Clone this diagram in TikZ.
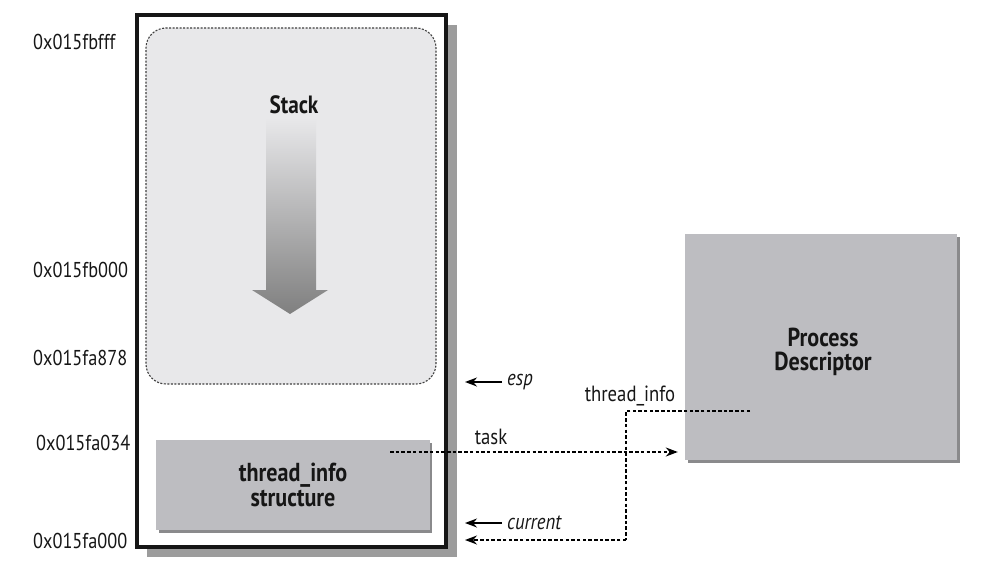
\documentclass[tikz,border=0pt]{standalone}
\usepackage{fontspec}
\setmainfont{PT Sans}[FakeStretch=0.85]
\usetikzlibrary{arrows.meta,positioning}
\definecolor{txt}{HTML}{161616}
\definecolor{stackfill}{HTML}{E8E8EA}
\definecolor{boxfill}{HTML}{BDBDC1}
\definecolor{boxshadow}{HTML}{8A8A8C}
\definecolor{outershadow}{HTML}{9C9C9C}
\tikzset{
  addr/.style={anchor=base west, font=\fontsize{21.5}{26}\selectfont, text=txt, inner sep=0pt},
  lbl/.style={font=\fontsize{22}{26}\selectfont, text=txt, inner sep=0pt},
  ilbl/.style={anchor=west, font=\fontsize{22}{26}\selectfont\itshape, text=txt, inner sep=0pt},
  bold/.style={font=\fontsize{26}{28}\selectfont\bfseries, text=txt, align=center},
  ptr/.style={line width=1.6pt, -{Stealth[length=12pt,width=9pt]}},
  dptr/.style={line width=1.5pt, dash pattern=on 3.5pt off 2.2pt, -{Stealth[length=12pt,width=9pt]}},
  dline/.style={line width=1.5pt, dash pattern=on 3.5pt off 2.2pt},
}
\begin{document}
\begin{tikzpicture}[x=1pt,y=-1pt]
\useasboundingbox (0,0) rectangle (993,572);
% outer box shadow and box
\fill[outershadow] (147,25) rectangle (457,557);
\node[draw=txt, line width=3.5pt, fill=white, minimum width=309pt, minimum height=532pt, inner sep=0pt] (outer) at (291.5,281) {};
% stack region
\node[draw=black!75, fill=stackfill, line width=1.1pt, dash pattern=on 2pt off 1.5pt, rounded corners=20pt, minimum width=290pt, minimum height=356pt, inner sep=0pt] (stack) at (291,206) {};
\node[bold, font=\fontsize{25}{28}\selectfont\bfseries] (stacklbl) at (294,105) {Stack};
\shade[top color=stackfill, bottom color=black!50] (266,118) -- (316,118) -- (316,290) -- (328,290) -- (290,314) -- (252,290) -- (266,290) -- cycle;
% thread_info box
\fill[boxshadow] (159,443) rectangle (432,533);
\node[fill=boxfill, minimum width=274pt, minimum height=90pt, inner sep=0pt, bold, align=center] (ti) at (293,485) {thread\_info\\[-3pt]structure};
% process descriptor
\fill[boxshadow] (688,237) rectangle (960,463);
\node[fill=boxfill, minimum width=272pt, minimum height=226pt, inner sep=0pt] (pd) at (821,347) {};
\node[bold, align=center] (pdlbl) at (823,352) {Process\\[-4pt]Descriptor};
% addresses
\node[addr] (a1) at (33,50) {0x015fbfff};
\node[addr] (a2) at (33,277) {0x015fb000};
\node[addr] (a3) at (33,365) {0x015fa878};
\node[addr] (a4) at (36,450) {0x015fa034};
\node[addr] (a5) at (33,548) {0x015fa000};
% esp / current pointers
\coordinate (espS) at (502,382);
\coordinate (espE) at (465,382);
\draw[ptr] (espS) -- (espE);
\node[ilbl] (esp) at (507,382) {esp};
\coordinate (curS) at (502,523);
\coordinate (curE) at (465,523);
\draw[ptr] (curS) -- (curE);
\node[ilbl] (cur) at (507,523) {current};
% task pointer
\coordinate (taskS) at (390,452);
\draw[dptr, shorten >=7pt] (taskS) -- (pd.west |- taskS);
\node[lbl] (tasklbl) at (491,437) {task};
% thread_info pointer
\coordinate (tiS) at (750,411);
\coordinate (tiC) at (626,411);
\coordinate (tiB) at (626,540);
\coordinate (tiE) at (465,540);
\draw[dline] (tiS) -- (tiC) -- (tiB);
\draw[dptr] (tiB) -- (tiE);
\node[lbl] (tilbl) at (630,396) {thread\_info};
\end{tikzpicture}
\end{document}
